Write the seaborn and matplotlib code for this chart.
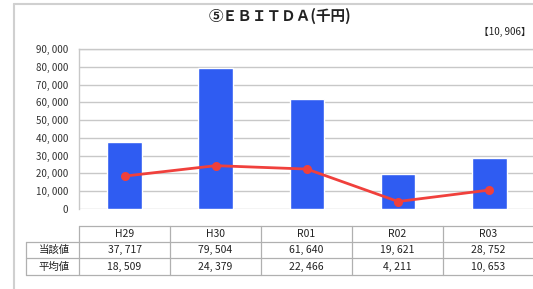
import matplotlib
matplotlib.use("Agg")
import matplotlib.pyplot as plt
import seaborn as sns
import pandas as pd

years = ["H29", "H30", "R01", "R02", "R03"]
current_vals = [37717, 79504, 61640, 19621, 28752]
average_vals = [18509, 24379, 22466, 4211, 10653]
row_labels = ["当該値", "平均値"]
title_text = "⑤ＥＢＩＴＤＡ(千円)"
note_text = "【10, 906】"
y_ticks = [0, 10000, 20000, 30000, 40000, 50000, 60000, 70000, 80000, 90000]

sns.set_theme(style="white")
FONT = ["Noto Sans CJK JP", "DejaVu Sans"]
plt.rcParams["font.family"] = FONT

W, H = 533, 289
fig = plt.figure(figsize=(W / 100, H / 100), dpi=100)

def fx(px):
    return px / W

def fy(py):
    return 1 - py / H

# main axes: x 79..533, y 49..209
ax = fig.add_axes([fx(79), fy(209), fx(533 - 79), (209 - 49) / H])
df = pd.DataFrame({"year": years, "cur": current_vals, "avg": average_vals})

GRID = "#c8c8c8"
ax.set_ylim(0, 90000)
ax.set_yticks(y_ticks)
ax.yaxis.grid(True, color=GRID, linewidth=1.0)
ax.set_axisbelow(True)

sns.barplot(data=df, x="year", y="cur", color="#2F5CF2", width=0.38,
            saturation=1, ax=ax, zorder=2)
sns.pointplot(data=df, x="year", y="avg", color="#F0403C", markers="o",
              errorbar=None, linewidth=2.0, markersize=5, ax=ax)

ax.set_xlim(-0.5, 4.48)
ax.set_ylim(0, 90000)
ax.set_xlabel("")
ax.set_ylabel("")
ax.set_xticks([])
ax.set_yticklabels([f"{v:,}".replace(",", ", ") for v in y_ticks],
                   fontsize=7, color="#333333")
ax.tick_params(axis="y", length=0, pad=8)
for s in ["right", "bottom"]:
    ax.spines[s].set_visible(False)
ax.spines["left"].set_color(GRID)
ax.spines["top"].set_color(GRID)
ax.spines["left"].set_linewidth(1.0)
ax.spines["top"].set_linewidth(1.0)

# overlay for frame, title and table
ov = fig.add_axes([0, 0, 1, 1])
ov.set_xlim(0, W)
ov.set_ylim(H, 0)
ov.axis("off")
ov.patch.set_alpha(0)

# outer frame
ov.plot([14, 14], [4, H + 5], color="#d0d0d0", lw=1.5)
ov.plot([14, W + 5], [4, 4], color="#d0d0d0", lw=1.5)

ov.text(280, 16, title_text, ha="center", va="center", fontsize=10.5,
        fontweight="bold", color="#222222")
ov.text(531, 32, note_text, ha="right", va="center", fontsize=7,
        color="#222222")

# table
col_edges = [79, 170, 261, 352, 443, 534]
row_edges = [226, 242, 258, 275]
TC = "#b0b0b0"
# horizontal lines
ov.plot([79, 534], [row_edges[0]] * 2, color=TC, lw=0.9)
for yv in row_edges[1:]:
    ov.plot([26, 534], [yv, yv], color=TC, lw=0.9)
# vertical lines
ov.plot([26, 26], [row_edges[1], row_edges[3]], color=TC, lw=0.9)
for xv in col_edges:
    ov.plot([xv, xv], [row_edges[0], row_edges[3]], color=TC, lw=0.9)

for i, yr in enumerate(years):
    cx = (col_edges[i] + col_edges[i + 1]) / 2
    ov.text(cx, (row_edges[0] + row_edges[1]) / 2, yr, ha="center",
            va="center", fontsize=7.5, color="#222222")
    ov.text(cx, (row_edges[1] + row_edges[2]) / 2,
            f"{current_vals[i]:,}".replace(",", ", "), ha="center",
            va="center", fontsize=7.5, color="#222222")
    ov.text(cx, (row_edges[2] + row_edges[3]) / 2,
            f"{average_vals[i]:,}".replace(",", ", "), ha="center",
            va="center", fontsize=7.5, color="#222222")
for j, lab in enumerate(row_labels):
    ov.text(54, (row_edges[j + 1] + row_edges[j + 2]) / 2, lab, ha="center",
            va="center", fontsize=7.5, color="#222222")

fig.savefig("out.png", dpi=100)
